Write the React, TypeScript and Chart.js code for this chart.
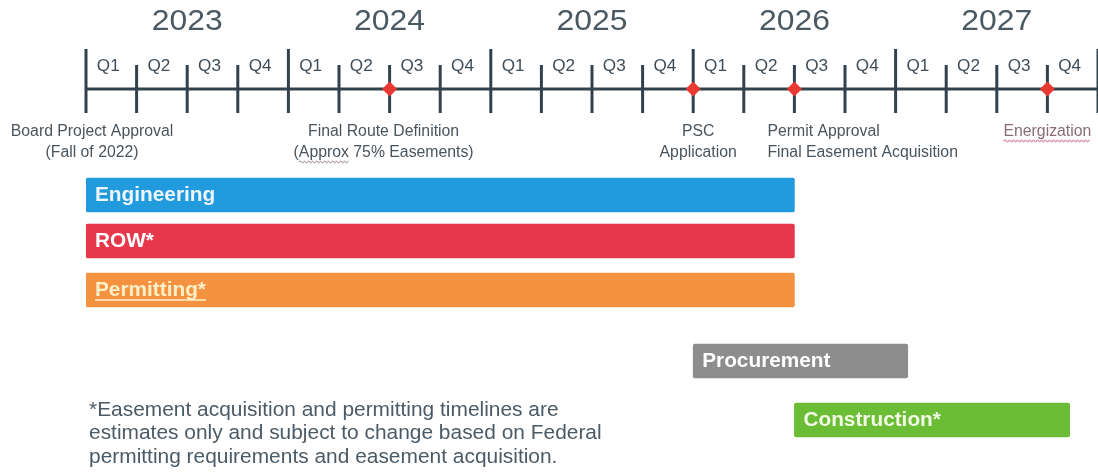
import React, { useEffect, useRef } from "react";
import { Chart, registerables } from "chart.js";

Chart.register(...registerables);

// ---------- data ----------
const years = [2023, 2024, 2025, 2026, 2027];
const quarterLabels = ["Q1", "Q2", "Q3", "Q4"];

const tasks = ["Engineering", "ROW*", "Permitting*", "Procurement", "Construction*"];
const taskStart = [2023.0, 2023.0, 2023.0, 2026.0, 2026.5];
const taskEnd = [2026.5, 2026.5, 2026.5, 2027.06, 2027.86];

const milestoneLines = [
  ["Board Project Approval", "(Fall of 2022)"],
  ["Final Route Definition", "(Approx 75% Easements)"],
  ["PSC", "Application"],
  ["Permit Approval", "Final Easement Acquisition"],
  ["Energization"],
];
const milestoneDates = [2023.0, 2024.5, 2026.0, 2026.5, 2027.75];
const milestoneMarked = [false, true, true, true, true];

const footnoteLines = [
  "*Easement acquisition and permitting timelines are",
  "estimates only and subject to change based on Federal",
  "permitting requirements and easement acquisition.",
];

// ---------- layout / style ----------
const W = 1098;
const H = 472;
const AXIS_Y = 89;
const LANE_Y = [195, 241, 290, 361, 420];
const BAR_COLORS = ["#229ade", "#e6374b", "#f4923f", "#8d8d8d", "#6bbd36"];
const BAR_TEXT = ["#eef5fb", "#ffffff", "#fdf0c8", "#ffffff", "#f2f8e4"];
const LABEL_ALIGN: CanvasTextAlign[] = ["center", "center", "center", "left", "center"];
const LABEL_DX = [6, -6, 5, -27, 0];
const FONT = '"Liberation Sans", Arial, sans-serif';

function drawText(
  ctx: CanvasRenderingContext2D,
  s: string,
  x: number,
  y: number,
  font: string,
  color: string,
  align: CanvasTextAlign,
  sx = 1
) {
  ctx.save();
  ctx.font = font;
  ctx.fillStyle = color;
  ctx.textBaseline = "middle";
  ctx.textAlign = align;
  ctx.translate(x, y);
  ctx.scale(sx, 1);
  ctx.fillText(s, 0, 0);
  const w = ctx.measureText(s).width * sx;
  ctx.restore();
  let left = x;
  if (align === "center") left = x - w / 2;
  else if (align === "right" || align === "end") left = x - w;
  return { left, width: w };
}

function wavy(ctx: CanvasRenderingContext2D, x0: number, x1: number, y: number, color: string) {
  ctx.save();
  ctx.strokeStyle = color;
  ctx.lineWidth = 1;
  ctx.beginPath();
  let up = true;
  ctx.moveTo(x0, y);
  for (let x = x0 + 2; x <= x1; x += 2) {
    ctx.lineTo(x, up ? y - 1.2 : y + 1.2);
    up = !up;
  }
  ctx.stroke();
  ctx.restore();
}

const timelinePlugin = {
  id: "timeline",
  beforeDatasetsDraw(chart: any) {
    const ctx: CanvasRenderingContext2D = chart.ctx;
    const xs = chart.scales.x;
    const ys = chart.scales.y;
    const ay = ys.getPixelForValue(AXIS_Y);
    const first = years[0];
    const last = years[years.length - 1] + 1;
    const axisColor = "#31424d";

    ctx.save();
    ctx.strokeStyle = axisColor;
    ctx.lineWidth = 3;
    ctx.beginPath();
    ctx.moveTo(xs.getPixelForValue(first), ay);
    ctx.lineTo(xs.getPixelForValue(last), ay);
    ctx.stroke();

    const nq = (last - first) * 4;
    for (let q = 0; q <= nq; q++) {
      const x = xs.getPixelForValue(first + q / 4);
      const top = q % 4 === 0 ? ay - 40 : ay - 24;
      ctx.beginPath();
      ctx.moveTo(x, top);
      ctx.lineTo(x, ay + 24);
      ctx.stroke();
    }
    ctx.restore();

    // quarter labels
    for (let q = 0; q < nq; q++) {
      const xa = xs.getPixelForValue(first + q / 4);
      const xb = xs.getPixelForValue(first + (q + 1) / 4);
      drawText(ctx, quarterLabels[q % 4], (xa + xb) / 2 - 3, ay - 23, `16.5px ${FONT}`, "#3e4d58", "center", 1.04);
    }
    // year labels
    years.forEach((yr) => {
      const xa = xs.getPixelForValue(yr);
      const xb = xs.getPixelForValue(yr + 1);
      drawText(ctx, String(yr), (xa + xb) / 2, ay - 67, `29px ${FONT}`, "#4b5963", "center", 1.1);
    });

    // milestone labels
    milestoneLines.forEach((lines, i) => {
      const x = xs.getPixelForValue(milestoneDates[i]) + LABEL_DX[i];
      lines.forEach((s, j) => {
        const isEnerg = s === "Energization";
        const y = ay + 43 + j * 21;
        const r = drawText(ctx, s, x, y, `15.8px ${FONT}`, isEnerg ? "#8a6c79" : "#4a545c", LABEL_ALIGN[i], 1.0);
        if (isEnerg) wavy(ctx, r.left, r.left + r.width, y + 9, "#d0607a");
        if (s.startsWith("(Approx")) {
          ctx.save();
          ctx.font = `15.8px ${FONT}`;
          const w = ctx.measureText("(Approx").width;
          ctx.restore();
          wavy(ctx, r.left + 5, r.left + w, y + 9, "#9a8a95");
        }
      });
    });

    // footnote
    footnoteLines.forEach((s, i) => {
      drawText(ctx, s, 89, 410 + i * 23.5, `20.5px ${FONT}`, "#4a5a66", "left", 1.02);
    });
  },
  afterDatasetsDraw(chart: any) {
    const ctx: CanvasRenderingContext2D = chart.ctx;
    const meta = chart.getDatasetMeta(0);
    meta.data.forEach((bar: any, i: number) => {
      const left = Math.min(bar.x, bar.base);
      const r = drawText(ctx, tasks[i], left + 9, bar.y, `bold 20px ${FONT}`, BAR_TEXT[i], "left", 1.04);
      if (tasks[i] === "Permitting*") {
        ctx.save();
        ctx.strokeStyle = BAR_TEXT[i];
        ctx.lineWidth = 1.5;
        ctx.beginPath();
        ctx.moveTo(r.left, bar.y + 10);
        ctx.lineTo(r.left + r.width, bar.y + 10);
        ctx.stroke();
        ctx.restore();
      }
    });
  },
};

export default function App() {
  const ref = useRef<HTMLCanvasElement | null>(null);

  useEffect(() => {
    if (!ref.current) return;
    const chart = new Chart(ref.current, {
      type: "bar",
      data: {
        datasets: [
          {
            type: "bar",
            data: tasks.map((_, i) => ({ x: [taskStart[i], taskEnd[i]], y: LANE_Y[i] })) as any,
            backgroundColor: BAR_COLORS,
            borderWidth: 0,
            borderSkipped: false,
            borderRadius: 2,
            barThickness: 34,
            grouped: false,
          } as any,
          {
            type: "scatter",
            data: milestoneDates
              .map((d, i) => ({ x: d, y: AXIS_Y, m: milestoneMarked[i] }))
              .filter((p) => p.m) as any,
            pointStyle: "rectRot",
            pointRadius: 7.5,
            pointHoverRadius: 7.5,
            backgroundColor: "#e83a32",
            borderColor: "#e83a32",
            borderWidth: 0,
            clip: false,
          } as any,
        ],
      },
      options: {
        indexAxis: "y",
        animation: false,
        responsive: false,
        devicePixelRatio: 1,
        layout: { autoPadding: false, padding: { left: 86, right: 0, top: 0, bottom: 0 } },
        scales: {
          x: { type: "linear", min: years[0], max: years[years.length - 1] + 1, display: false, offset: false },
          y: { type: "linear", min: 0, max: H, reverse: true, display: false, offset: false },
        },
        plugins: {
          legend: { display: false },
          tooltip: { enabled: false },
        },
      },
      plugins: [timelinePlugin],
    });
    return () => chart.destroy();
  }, []);

  return (
    <div style={{ position: "fixed", left: 0, top: 0, width: W, height: H, background: "#ffffff" }}>
      <canvas ref={ref} width={W} height={H} style={{ display: "block" }} />
    </div>
  );
}
